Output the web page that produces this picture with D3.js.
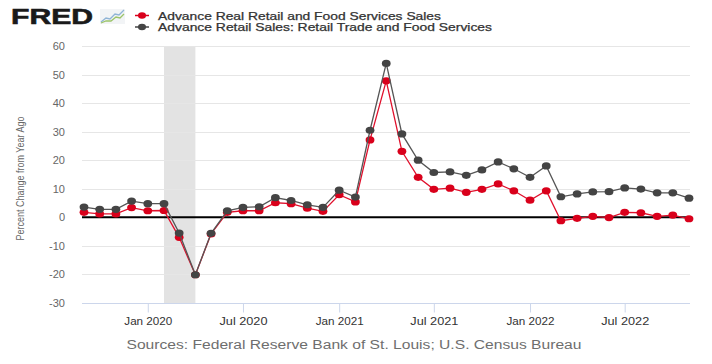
<!DOCTYPE html>
<html>
<head>
<meta charset="utf-8">
<script src="https://cdn.jsdelivr.net/npm/d3@7"></script>
<style>
  html, body { margin: 0; padding: 0; background: #fff; }
  svg { display: block; font-family: "Liberation Sans", Arial, sans-serif; }
</style>
</head>
<body>
<svg id="chart" width="712" height="364"></svg>
<script>
// ---- data ----
const startMonth = "2019-09";
const monthCount = 39; // Sep 2019 .. Nov 2022
const realSales = [
  1.75, 1.2, 1.2, 3.4,
  2.3, 2.4, -7.0, -20.1, -5.8, 1.75, 2.3, 2.3, 5.1, 4.8, 3.2, 2.1,
  7.9, 5.4, 27.1, 47.8, 23.1, 14.0, 9.8, 10.2, 8.75, 9.8, 11.7, 9.3,
  6.0, 9.3, -1.2, -0.35, 0.35, -0.1, 1.75, 1.6, 0.35, 0.8, -0.5
];
const nominalSales = [
  3.6, 2.8, 2.8, 5.7,
  4.8, 4.8, -5.5, -20.1, -5.6, 2.3, 3.5, 3.7, 6.9, 5.9, 4.4, 3.5,
  9.5, 7.1, 30.5, 53.9, 29.2, 20.0, 15.7, 15.9, 14.7, 16.6, 19.4, 17.0,
  14.0, 18.0, 7.2, 8.2, 8.9, 9.0, 10.3, 9.9, 8.6, 8.6, 6.7
];
const seriesNames = [
  "Advance Real Retail and Food Services Sales",
  "Advance Retail Sales: Retail Trade and Food Services"
];
const yTicks = [60, 50, 40, 30, 20, 10, 0, -10, -20, -30];
const xTickDates = ["2020-01", "2020-07", "2021-01", "2021-07", "2022-01", "2022-07"];
const recession = ["2020-02", "2020-04"];
const yTitle = "Percent Change from Year Ago";
const sourceText = "Sources: Federal Reserve Bank of St. Louis; U.S. Census Bureau";

(function () {
// ---- setup ----
const parse = d3.timeParse("%Y-%m");
const start = parse(startMonth);
const dates = d3.range(monthCount).map(i => d3.timeMonth.offset(start, i));

const svg = d3.select("#chart");
const pL = 82, pR = 690, pT = 46, pB = 303;

const x = d3.scaleTime()
  .domain([dates[0], dates[dates.length - 1]])
  .range([84, 689]);
const y = d3.scaleLinear().domain([-30, 60]).range([pB, pT]);

const RED = "#d9001b", GRAY = "#444444";

// recession shading
svg.append("rect")
  .attr("x", x(parse(recession[0])))
  .attr("y", pT)
  .attr("width", x(parse(recession[1])) - x(parse(recession[0])))
  .attr("height", pB - pT)
  .attr("fill", "#e3e3e3");

// grid lines
svg.append("g").selectAll("line")
  .data(yTicks.filter(v => v !== -30 && v !== 0))
  .join("line")
  .attr("x1", pL).attr("x2", pR)
  .attr("y1", d => Math.round(y(d)) + 0.5).attr("y2", d => Math.round(y(d)) + 0.5)
  .attr("stroke", "#e6e6e6").attr("stroke-width", 1);

// y axis labels
svg.append("g").selectAll("text")
  .data(yTicks)
  .join("text")
  .attr("x", 65)
  .attr("y", d => y(d) + 4)
  .attr("text-anchor", "end")
  .attr("font-size", "11px")
  .attr("fill", "#666")
  .text(d => d);

// y axis title
svg.append("text")
  .attr("transform", `translate(24,${(pT + pB) / 2 + 4}) rotate(-90)`)
  .attr("text-anchor", "middle")
  .attr("font-size", "11px")
  .attr("fill", "#666")
  .attr("textLength", 124)
  .attr("lengthAdjust", "spacingAndGlyphs")
  .text(yTitle);

// x axis
const xAxis = d3.axisBottom(x)
  .tickValues(xTickDates.map(parse))
  .tickFormat(d3.timeFormat("%b %Y"))
  .tickSize(9)
  .tickSizeOuter(0);
const gx = svg.append("g").attr("transform", `translate(0,${pB + 0.5})`).call(xAxis);
gx.select(".domain").attr("d", `M${pL},0H${pR}`).attr("stroke", "#ccd6eb");
gx.selectAll(".tick line").attr("stroke", "#ccd6eb");
gx.selectAll(".tick text")
  .attr("font-family", "Liberation Sans, Arial, sans-serif")
  .attr("font-size", "11px").attr("fill", "#333").attr("dy", "0.9em").attr("y", 12)
  .attr("textLength", 48).attr("lengthAdjust", "spacingAndGlyphs");

// zero line
svg.append("line")
  .attr("x1", pL).attr("x2", pR)
  .attr("y1", y(0)).attr("y2", y(0))
  .attr("stroke", "#000").attr("stroke-width", 2);

// series
function drawSeries(values, color, lineColor) {
  const pts = values.map((v, i) => ({ d: dates[i], v }));
  const line = d3.line().x(p => x(p.d)).y(p => y(p.v));
  svg.append("path").datum(pts)
    .attr("d", line)
    .attr("fill", "none")
    .attr("stroke", lineColor)
    .attr("stroke-width", 1.3);
  svg.append("g").selectAll("ellipse").data(pts).join("ellipse")
    .attr("cx", p => x(p.d)).attr("cy", p => y(p.v))
    .attr("rx", 4.4).attr("ry", 3.6)
    .attr("fill", color);
}
drawSeries(realSales, RED, "#e0102c");
drawSeries(nominalSales, GRAY, "#555");

// FRED logo
const logo = svg.append("g");
logo.append("text")
  .attr("x", 11).attr("y", 24)
  .attr("font-size", "22px").attr("font-weight", "bold")
  .attr("fill", "#1a1a1a")
  .attr("stroke", "#1a1a1a").attr("stroke-width", 0.6)
  .attr("textLength", 82).attr("lengthAdjust", "spacingAndGlyphs")
  .text("FRED");
logo.append("rect").attr("x", 100).attr("y", 9).attr("width", 25).attr("height", 15)
  .attr("fill", "#f2f4f6");
logo.append("path").attr("d", "M101,22 L106,18 L110,19 L115,14 L119,15 L124,10")
  .attr("fill", "none").attr("stroke", "#8fb4d6").attr("stroke-width", 1.3);
logo.append("path").attr("d", "M101,23 L106,21 L111,21 L116,17 L120,18 L124,14")
  .attr("fill", "none").attr("stroke", "#9cc46a").attr("stroke-width", 1.3);

// legend
const legend = svg.append("g");
[[RED, seriesNames[0], 15.5, 283], [GRAY, seriesNames[1], 27, 334]].forEach(([c, name, ly, len]) => {
  legend.append("line").attr("x1", 135).attr("x2", 149).attr("y1", ly).attr("y2", ly)
    .attr("stroke", c).attr("stroke-width", 1.5);
  legend.append("ellipse").attr("cx", 142).attr("cy", ly).attr("rx", 4).attr("ry", 3.3).attr("fill", c);
  legend.append("text").attr("x", 158).attr("y", ly + 4)
    .attr("font-size", "10.5px").attr("fill", "#333")
    .attr("stroke", "#333").attr("stroke-width", 0.25)
    .attr("textLength", len).attr("lengthAdjust", "spacingAndGlyphs")
    .text(name);
});

// source
svg.append("text")
  .attr("x", 354).attr("y", 349)
  .attr("text-anchor", "middle")
  .attr("font-size", "12.5px").attr("fill", "#6e6e6e")
  .attr("textLength", 455).attr("lengthAdjust", "spacingAndGlyphs")
  .text(sourceText);
})();
</script>
</body>
</html>
